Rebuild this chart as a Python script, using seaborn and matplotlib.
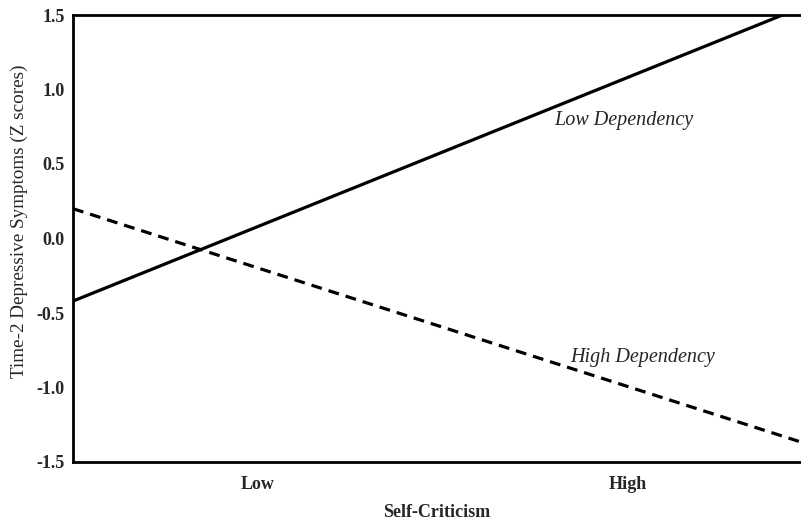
import matplotlib
matplotlib.use("Agg")
import matplotlib.pyplot as plt
import seaborn as sns
import pandas as pd

# Data (line ends at the axis edges)
x_pos = [-0.5, 1.5]
low_dep = [-0.42, 1.58]
high_dep = [0.20, -1.39]
x_ticks = [0, 1]
x_ticklabels = ["Low", "High"]
y_ticks = [-1.5, -1.0, -0.5, 0.0, 0.5, 1.0, 1.5]

sns.set_theme(style="white")
plt.rcParams["font.family"] = ["Liberation Serif", "DejaVu Serif"]

df = pd.DataFrame({
    "x": x_pos * 2,
    "y": low_dep + high_dep,
    "group": ["Low Dependency"] * 2 + ["High Dependency"] * 2,
})

fig = plt.figure(figsize=(8.01, 5.23), dpi=100)
ax = fig.add_axes([73 / 801, (523 - 462) / 523, 1 - 73 / 801, (462 - 15) / 523])

sns.lineplot(data=df, x="x", y="y", style="group",
             style_order=["Low Dependency", "High Dependency"],
             dashes={"Low Dependency": "", "High Dependency": (3.4, 2.2)},
             color="black", linewidth=2.3, legend=False, ax=ax)

ax.set_xlim(-0.5, 1.47)
ax.set_ylim(-1.5, 1.5)
ax.set_xticks(x_ticks)
ax.set_xticklabels(x_ticklabels, fontsize=13, fontweight="bold")
ax.set_yticks(y_ticks)
ax.set_yticklabels([f"{v:.1f}" for v in y_ticks], fontsize=13, fontweight="bold")
ax.tick_params(axis="both", direction="in", length=3, width=1.2, color="black")
ax.tick_params(axis="x", pad=10)
ax.tick_params(axis="y", pad=6)

for side in ["left", "bottom", "top"]:
    ax.spines[side].set_visible(True)
    ax.spines[side].set_color("black")
    ax.spines[side].set_linewidth(2)
ax.spines["right"].set_visible(False)

ax.set_xlabel("Self-Criticism", fontsize=13, fontweight="bold", labelpad=8)
ax.set_ylabel("Time-2 Depressive Symptoms (Z scores)", fontsize=13.8)
ax.yaxis.set_label_coords(-0.062, 0.539)

ax.text(0.99, 0.79, "Low Dependency", fontsize=14.5, fontstyle="italic",
        ha="center", va="center")
ax.text(1.04, -0.80, "High Dependency", fontsize=14.5, fontstyle="italic",
        ha="center", va="center")

fig.savefig("out.png", dpi=100)
